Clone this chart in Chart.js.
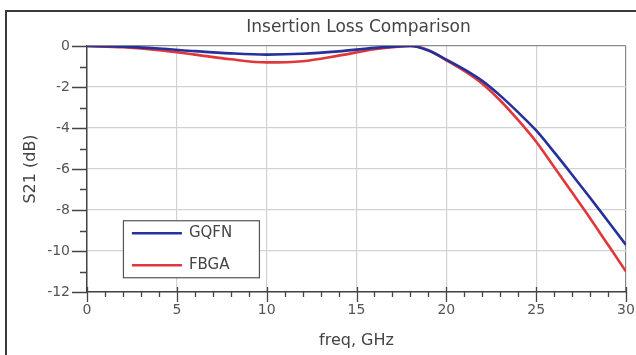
<!DOCTYPE html>
<html>
<head>
<meta charset="utf-8">
<script src="https://cdn.jsdelivr.net/npm/chart.js@4"></script>
<style>
  html, body { margin: 0; padding: 0; background: #ffffff; overflow: hidden; }
  #wrap { position: relative; width: 636px; height: 355px; overflow: hidden; }
  #frame { position: absolute; left: 5px; top: 10px; width: 631px; height: 345px;
           border-left: 2px solid #3a3a3a; border-top: 2px solid #3a3a3a; box-sizing: border-box; }
  canvas { position: absolute; left: 0; top: 0; }
</style>
</head>
<body>
<div id="wrap">
  <div id="frame"></div>
  <canvas id="c" width="636" height="355"></canvas>
</div>
<script>
// ---- data ----
const chartTitle = "Insertion Loss Comparison";
const xTitle = "freq, GHz";
const yTitle = "S21 (dB)";
const seriesNames = ["GQFN", "FBGA"];
const freqGHz = [0, 2, 4, 6, 8, 10, 12, 14, 16, 17, 18, 19, 20, 21, 22, 23, 24, 25, 26, 27, 28, 29, 30];
const gqfnDb  = [0, -0.03, -0.12, -0.25, -0.36, -0.42, -0.38, -0.26, -0.09, -0.03, 0, -0.22, -0.66, -1.14, -1.7, -2.42, -3.24, -4.12, -5.18, -6.28, -7.4, -8.55, -9.7];
const fbgaDb  = [0, -0.06, -0.2, -0.42, -0.65, -0.8, -0.74, -0.47, -0.16, -0.06, 0, -0.2, -0.7, -1.22, -1.84, -2.66, -3.62, -4.67, -5.9, -7.15, -8.4, -9.7, -11.0];
const xMajorTicks = [0, 5, 10, 15, 20, 25, 30];
const yMajorTicks = [0, -2, -4, -6, -8, -10, -12];

const toPoints = (xs, ys) => xs.map((x, i) => ({ x: x, y: ys[i] }));

const FONT = "'DejaVu Sans', 'Liberation Sans', Arial, sans-serif";
const TXT = "#555555";

const extrasPlugin = {
  id: 'extras',
  afterDraw(chart) {
    const ctx = chart.ctx;
    const xs = chart.scales.x, ys = chart.scales.y;
    const ca = chart.chartArea;
    ctx.save();
    // minor / major tick marks
    ctx.strokeStyle = "#444";
    ctx.lineWidth = 1.3;
    ctx.beginPath();
    for (let v = 0; v >= -12; v -= 1) {
      const py = Math.round(ys.getPixelForValue(v)) + 0.5;
      const major = yMajorTicks.includes(v);
      ctx.moveTo(ca.left - (major ? 15 : 7), py);
      ctx.lineTo(ca.left, py);
    }
    for (let v = 0; v <= 30; v += 1) {
      const px = Math.round(xs.getPixelForValue(v)) + 0.5;
      const major = xMajorTicks.includes(v);
      ctx.moveTo(px, ca.bottom - (major ? 5 : 0));
      ctx.lineTo(px, ca.bottom + (major ? 10 : 5));
    }
    ctx.stroke();
    // title centred over plot
    ctx.fillStyle = "#444";
    ctx.font = "17px " + FONT;
    ctx.textAlign = "center";
    ctx.textBaseline = "middle";
    ctx.fillText(chartTitle, (ca.left + ca.right) / 2 + 2, 28);
    // legend box inside plot
    const bx = xs.getPixelForValue(2), by = ys.getPixelForValue(-8.5);
    const bw = 136, bh = 57;
    ctx.fillStyle = "#ffffff";
    ctx.fillRect(bx, by, bw, bh);
    ctx.strokeStyle = "#555";
    ctx.lineWidth = 1.2;
    ctx.strokeRect(bx + 0.5, by + 0.5, bw, bh);
    chart.data.datasets.forEach((ds, i) => {
      const ly = by + 13 + i * 32;
      ctx.strokeStyle = ds.borderColor;
      ctx.lineWidth = 2.5;
      ctx.beginPath();
      ctx.moveTo(bx + 9, ly);
      ctx.lineTo(bx + 59, ly);
      ctx.stroke();
      ctx.fillStyle = "#444";
      ctx.font = "15px " + FONT;
      ctx.textAlign = "left";
      ctx.textBaseline = "middle";
      ctx.fillText(ds.label, bx + 66, ly);
    });
    ctx.restore();
  }
};

new Chart(document.getElementById('c'), {
  type: 'line',
  data: {
    datasets: [
      { label: seriesNames[0], data: toPoints(freqGHz, gqfnDb), borderColor: '#26309a', borderWidth: 2.6,
        pointRadius: 0, cubicInterpolationMode: 'monotone', fill: false },
      { label: seriesNames[1], data: toPoints(freqGHz, fbgaDb), borderColor: '#e0383a', borderWidth: 2.6,
        pointRadius: 0, cubicInterpolationMode: 'monotone', fill: false }
    ]
  },
  options: {
    responsive: false,
    animation: false,
    layout: { padding: { left: 0, right: 0, top: 46, bottom: 0 } },
    plugins: { legend: { display: false }, title: { display: false }, tooltip: { enabled: false } },
    scales: {
      x: {
        type: 'linear', min: 0, max: 30,
        afterFit(s) { s.height = 63; s.paddingRight = 10; s.paddingLeft = 0; },
        ticks: {
          stepSize: 1, autoSkip: false, maxRotation: 0, padding: 10,
          color: TXT, font: { family: FONT, size: 14 },
          callback: v => xMajorTicks.includes(v) ? String(v) : ''
        },
        grid: {
          drawTicks: false, lineWidth: 1.2,
          color: c => (c.tick.value === 30 ? '#8a8a8a' : (c.tick.value % 5 === 0 ? '#d2d2d2' : 'rgba(0,0,0,0)'))
        },
        border: { color: '#444', width: 1.5 },
        title: { display: true, text: xTitle, color: '#444', font: { family: FONT, size: 16 }, padding: { top: 0, bottom: 5 } }
      },
      y: {
        type: 'linear', min: -12, max: 0,
        afterFit(s) { s.width = 87; },
        ticks: {
          stepSize: 1, autoSkip: false, padding: 17,
          color: TXT, font: { family: FONT, size: 14 },
          callback: v => yMajorTicks.includes(v) ? String(v) : ''
        },
        grid: {
          drawTicks: false, lineWidth: 1.2,
          color: c => (c.tick.value === 0 ? '#8a8a8a' : (c.tick.value % 2 === 0 ? '#d2d2d2' : 'rgba(0,0,0,0)'))
        },
        border: { color: '#444', width: 1.5 },
        title: { display: true, text: yTitle, color: '#444', font: { family: FONT, size: 16 }, padding: { top: 21, bottom: 0 } }
      }
    }
  },
  plugins: [extrasPlugin]
});
</script>
</body>
</html>
